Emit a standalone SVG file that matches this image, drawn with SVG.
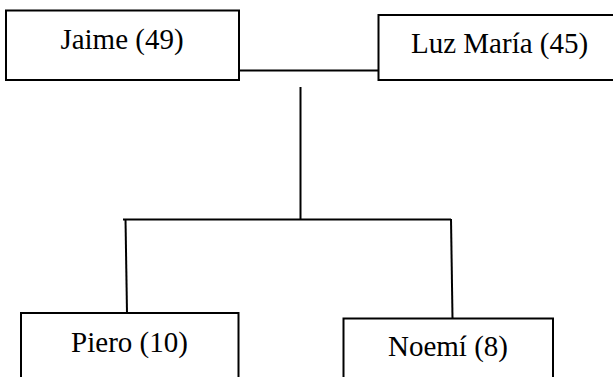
<svg xmlns="http://www.w3.org/2000/svg" width="613" height="377" viewBox="0 0 613 377">
<style>
.box{fill:#fff;stroke:#000;stroke-width:2}
.lbl{font-family:'Liberation Serif','Times New Roman',serif;font-size:29px;fill:#000}
.conn{stroke:#000;stroke-width:2;fill:none}
</style>
<rect width="613" height="377" fill="#fff"/>
<g id="connectors">
<line class="conn" x1="239" y1="70.5" x2="378" y2="70.5"/>
<line class="conn" x1="300.5" y1="87" x2="300.5" y2="219.5"/>
<line class="conn" x1="123" y1="219.5" x2="451" y2="219.5"/>
<line class="conn" x1="125.5" y1="219" x2="127" y2="313"/>
<line class="conn" x1="451" y1="219" x2="452.5" y2="318"/>
</g>
<g id="jaime">
<rect class="box" x="6" y="10.5" width="233" height="69.5"/>
<text class="lbl" x="122" y="49" text-anchor="middle">Jaime (49)</text>
</g>
<g id="luz">
<rect class="box" x="378.5" y="15" width="250" height="65"/>
<text class="lbl" x="411" y="53">Luz María (45)</text>
</g>
<g id="piero">
<rect class="box" x="21" y="313" width="217.5" height="80"/>
<text class="lbl" x="129.5" y="352" text-anchor="middle">Piero (10)</text>
</g>
<g id="noemi">
<rect class="box" x="343.5" y="318.5" width="209.5" height="80"/>
<text class="lbl" x="448" y="356" text-anchor="middle">Noemí (8)</text>
</g>
</svg>
